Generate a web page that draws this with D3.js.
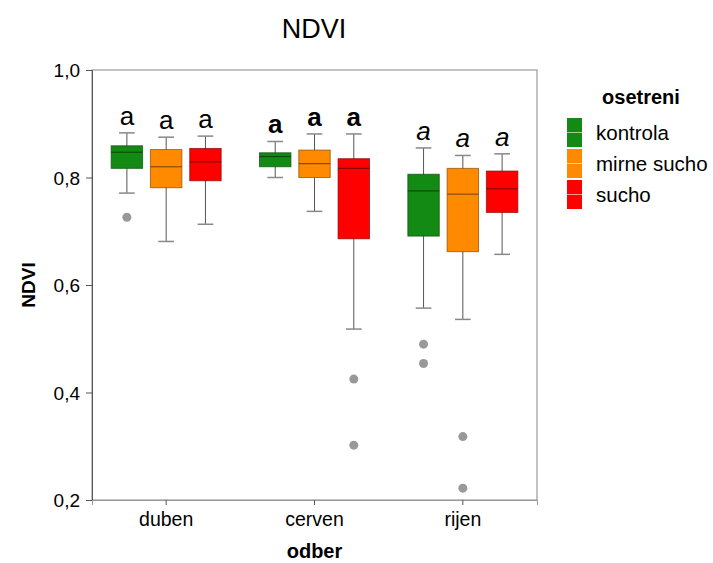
<!DOCTYPE html>
<html>
<head>
<meta charset="utf-8">
<script src="https://cdn.jsdelivr.net/npm/d3@7"></script>
<style>
  body { margin: 0; background: #fff; }
  svg { font-family: Arial, "Liberation Sans", sans-serif; }
</style>
</head>
<body>
<div id="chart"></div>
<script>
// ### DATA ###
const months = [ 'duben', 'cerven', 'rijen' ];
const treatments = [ 'kontrola', 'mirne sucho', 'sucho' ];
const colors = [ '#138a13', '#ff8a00', '#ff0000' ];
const strokes = [ '#0b4d0b', '#8a4a00', '#8a0000' ];
const yTicks = [ 0.2, 0.4, 0.6, 0.8, 1.0 ];

// box stats per month, per treatment: [whiskerLow, q1, median, q3, whiskerHigh]
const stats = [
  [ [ 0.771, 0.817, 0.847, 0.859, 0.883 ], [ 0.681, 0.781, 0.820, 0.852, 0.875 ], [ 0.713, 0.794, 0.829, 0.854, 0.877 ] ],
  [ [ 0.800, 0.820, 0.839, 0.846, 0.867 ], [ 0.737, 0.800, 0.826, 0.851, 0.881 ], [ 0.518, 0.686, 0.817, 0.835, 0.881 ] ],
  [ [ 0.557, 0.691, 0.775, 0.806, 0.855 ], [ 0.536, 0.662, 0.769, 0.817, 0.841 ], [ 0.657, 0.735, 0.779, 0.812, 0.844 ] ]
];
const outliers = [
  [ [ 0.726 ], [], [] ],
  [ [], [], [ 0.425, 0.302 ] ],
  [ [ 0.490, 0.454 ], [ 0.318, 0.222 ], [] ]
];
// letter style per month
const letterStyles = [ 'normal', 'bold', 'italic' ];

// ### LAYOUT ###
const width = 713, height = 563;
const margin = { top: 70, left: 92, right: 176, bottom: 63 };
const plotW = width - margin.left - margin.right;
const plotH = height - margin.top - margin.bottom;

const svg = d3.select( '#chart' ).append( 'svg' )
  .attr( 'width', width )
  .attr( 'height', height );

const x = d3.scaleBand().domain( months ).range( [ 0, plotW ] );
const xInner = d3.scaleBand().domain( treatments ).range( [ -55, 55 ] ).paddingInner( 0.2 );
const y = d3.scaleLinear().domain( [ 0.2, 1.0 ] ).range( [ plotH, 0 ] );

// title
svg.append( 'text' )
  .attr( 'x', 314 ).attr( 'y', 38 )
  .attr( 'text-anchor', 'middle' )
  .style( 'font-size', '27px' )
  .text( 'NDVI' );

const g = svg.append( 'g' ).attr( 'transform', `translate(${margin.left},${margin.top})` );

// frame
g.append( 'rect' )
  .attr( 'width', plotW ).attr( 'height', plotH )
  .attr( 'fill', 'none' ).attr( 'stroke', '#999' ).attr( 'stroke-width', 1.2 );

// y axis
const yAxis = g.append( 'g' )
  .call( d3.axisLeft( y ).tickValues( yTicks ).tickSize( 6 ).tickPadding( 6 )
    .tickFormat( d => d3.format( '.1f' )( d ).replace( '.', ',' ) ) );
yAxis.select( '.domain' ).attr( 'stroke', '#555' );
yAxis.selectAll( '.tick line' ).attr( 'stroke', '#555' );
yAxis.selectAll( 'text' ).style( 'font-size', '19px' ).attr( 'fill', '#000' ).attr( 'dy', '0.35em' );

// x axis
const xAxis = g.append( 'g' )
  .attr( 'transform', `translate(0,${plotH})` )
  .call( d3.axisBottom( x ).tickSize( 5 ) );
xAxis.select( '.domain' ).attr( 'stroke', '#999' );
xAxis.selectAll( '.tick line' ).attr( 'stroke', '#555' );
xAxis.selectAll( 'text' ).style( 'font-size', '19.5px' ).attr( 'fill', '#000' ).attr( 'y', 26 ).attr( 'dy', 0 );

// axis titles
svg.append( 'text' )
  .attr( 'transform', `translate(35,${margin.top + plotH / 2}) rotate(-90)` )
  .attr( 'text-anchor', 'middle' )
  .style( 'font-size', '19px' ).style( 'font-weight', 'bold' )
  .text( 'NDVI' );
svg.append( 'text' )
  .attr( 'x', margin.left + plotW / 2 ).attr( 'y', 558 )
  .attr( 'text-anchor', 'middle' )
  .style( 'font-size', '20px' ).style( 'font-weight', 'bold' )
  .text( 'odber' );

// boxes
months.forEach( ( m, mi ) => {
  treatments.forEach( ( t, ti ) => {
    const s = stats[ mi ][ ti ];
    const bw = xInner.bandwidth();
    const cx = x( m ) + x.bandwidth() / 2 + xInner( t ) + bw / 2;
    const box = g.append( 'g' );
    // whiskers
    box.append( 'line' )
      .attr( 'x1', cx ).attr( 'x2', cx )
      .attr( 'y1', y( s[ 0 ] ) ).attr( 'y2', y( s[ 4 ] ) )
      .attr( 'stroke', '#555' );
    [ s[ 0 ], s[ 4 ] ].forEach( v => {
      box.append( 'line' )
        .attr( 'x1', cx - bw / 4 ).attr( 'x2', cx + bw / 4 )
        .attr( 'y1', y( v ) ).attr( 'y2', y( v ) )
        .attr( 'stroke', '#888' ).attr( 'stroke-width', 1.5 );
    } );
    box.append( 'rect' )
      .attr( 'x', cx - bw / 2 ).attr( 'width', bw )
      .attr( 'y', y( s[ 3 ] ) ).attr( 'height', y( s[ 1 ] ) - y( s[ 3 ] ) )
      .attr( 'fill', colors[ ti ] ).attr( 'stroke', strokes[ ti ] ).attr( 'stroke-opacity', 0.7 );
    box.append( 'line' )
      .attr( 'x1', cx - bw / 2 ).attr( 'x2', cx + bw / 2 )
      .attr( 'y1', y( s[ 2 ] ) ).attr( 'y2', y( s[ 2 ] ) )
      .attr( 'stroke', strokes[ ti ] ).attr( 'stroke-width', 1.2 );
    // outliers
    outliers[ mi ][ ti ].forEach( v => {
      box.append( 'circle' )
        .attr( 'cx', cx ).attr( 'cy', y( v ) ).attr( 'r', 4.5 )
        .attr( 'fill', '#999' );
    } );
    // letter
    box.append( 'text' )
      .attr( 'x', cx ).attr( 'y', y( s[ 4 ] ) - 8 )
      .attr( 'text-anchor', 'middle' )
      .style( 'font-size', '26px' )
      .style( 'font-weight', letterStyles[ mi ] === 'bold' ? 'bold' : 'normal' )
      .style( 'font-style', letterStyles[ mi ] === 'italic' ? 'italic' : 'normal' )
      .text( 'a' );
  } );
} );

// legend
const legend = svg.append( 'g' ).attr( 'transform', 'translate(567,0)' );
legend.append( 'text' )
  .attr( 'x', 74 ).attr( 'y', 104 )
  .attr( 'text-anchor', 'middle' )
  .style( 'font-size', '20px' ).style( 'font-weight', 'bold' )
  .text( 'osetreni' );
treatments.forEach( ( t, i ) => {
  const top = 118 + i * 31;
  legend.append( 'rect' )
    .attr( 'x', 0 ).attr( 'y', top ).attr( 'width', 15 ).attr( 'height', 29 )
    .attr( 'fill', colors[ i ] );
  legend.append( 'line' )
    .attr( 'x1', 0 ).attr( 'x2', 15 )
    .attr( 'y1', top + 14.5 ).attr( 'y2', top + 14.5 )
    .attr( 'stroke', '#fff' ).attr( 'stroke-opacity', 0.6 );
  legend.append( 'text' )
    .attr( 'x', 29 ).attr( 'y', top + 14.5 )
    .attr( 'dy', '0.35em' )
    .style( 'font-size', '20.5px' )
    .text( t );
} );
</script>
</body>
</html>
